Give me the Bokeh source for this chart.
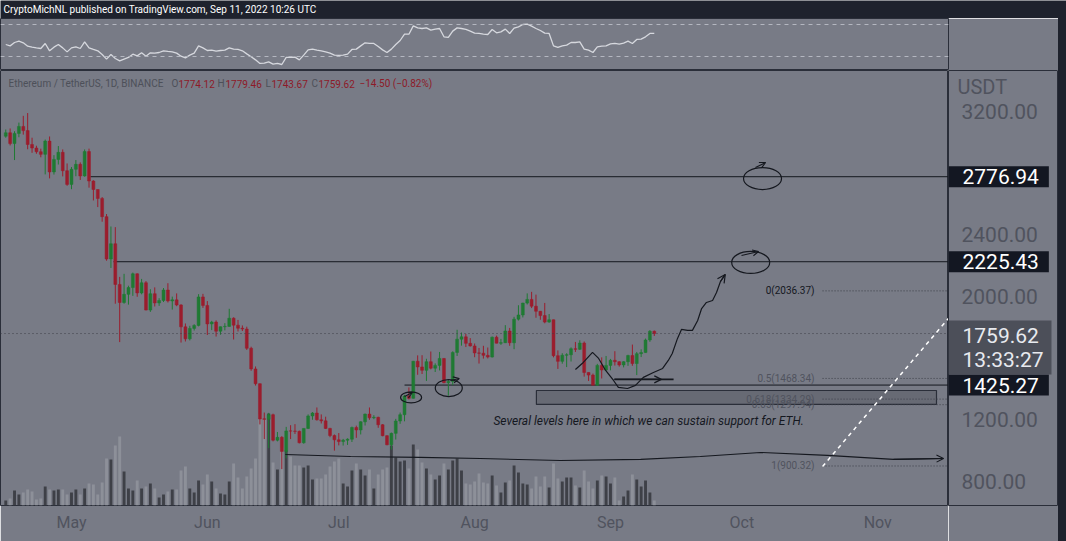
import pandas as pd
from bokeh.plotting import figure
from bokeh.models import (ColumnDataSource, Range1d, FixedTicker, DatetimeTickFormatter,
                          Label, Span, Arrow, OpenHead, Spacer)
from bokeh.layouts import column, row
from bokeh.core.properties import value
from bokeh.embed import file_html
from bokeh.resources import INLINE

# ---------------- data ----------------
first_day = "2022-04-16"
opens = [3040, 3062, 2992, 3058, 3103, 3076, 2986, 2963, 2939, 2922,
         3008, 2808, 2889, 2935, 2816, 2727, 2825, 2857, 2782, 2940,
         2749, 2694, 2636, 2518, 2243, 2342, 2078, 1961, 2014, 2058,
         2147, 2023, 2089, 1912, 2018, 1958, 1974, 2042, 1971, 1978,
         1945, 1803, 1725, 1793, 1812, 1997, 1942, 1822, 1834, 1775,
         1804, 1806, 1859, 1814, 1794, 1789, 1664, 1530, 1434, 1206,
         1203, 1233, 1068, 1086, 995, 1128, 1127, 1125, 1051, 1144,
         1225, 1244, 1200, 1193, 1144, 1098, 1070, 1059, 1068, 1074,
         1150, 1134, 1187, 1237, 1213, 1216, 1168, 1097, 1038, 1112,
         1192, 1233, 1354, 1339, 1580, 1543, 1521, 1577, 1535, 1553,
         1598, 1441, 1449, 1637, 1723, 1738, 1696, 1679, 1634, 1632,
         1618, 1607, 1736, 1697, 1700, 1776, 1700, 1853, 1880, 1957,
         1981, 1937, 1904, 1876, 1834, 1849, 1616, 1579, 1619, 1622,
         1661, 1657, 1698, 1507, 1490, 1424, 1553, 1523, 1553, 1586,
         1577, 1556, 1577, 1617, 1565, 1629, 1636, 1718, 1774.12]
highs = [3083, 3090, 3072, 3128, 3172, 3190, 3030, 2978, 2959, 3018,
         3038, 2917, 2976, 2954, 2863, 2840, 2885, 2870, 2954, 2959,
         2754, 2694, 2645, 2535, 2454, 2450, 2127, 2147, 2070, 2155,
         2150, 2114, 2100, 2047, 2059, 1989, 2055, 2086, 1999, 2020,
         1950, 1825, 1810, 1820, 2015, 2017, 1970, 1842, 1845, 1805,
         1827, 1920, 1865, 1848, 1812, 1804, 1674, 1546, 1436, 1247,
         1245, 1240, 1121, 1094, 1154, 1165, 1172, 1130, 1144, 1235,
         1250, 1280, 1235, 1220, 1148, 1105, 1114, 1076, 1080, 1156,
         1162, 1190, 1240, 1280, 1230, 1220, 1172, 1100, 1117, 1206,
         1247, 1362, 1410, 1582, 1618, 1619, 1596, 1643, 1566, 1640,
         1600, 1463, 1644, 1784, 1766, 1757, 1730, 1695, 1666, 1680,
         1669, 1740, 1746, 1725, 1814, 1796, 1868, 1943, 1959, 2020,
         2030, 2012, 1906, 1958, 1886, 1850, 1650, 1632, 1632, 1670,
         1705, 1716, 1708, 1508, 1500, 1563, 1605, 1614, 1595, 1645,
         1580, 1580, 1622, 1688, 1640, 1657, 1727, 1782, 1779.46]
lows = [3030, 2980, 2885, 3033, 3050, 2955, 2932, 2926, 2903, 2792,
        2766, 2791, 2856, 2779, 2718, 2696, 2780, 2756, 2777, 2706,
        2623, 2580, 2485, 2232, 2185, 1953, 1704, 1953, 1947, 2004,
        1998, 2014, 1910, 1900, 1935, 1939, 1964, 1961, 1915, 1937,
        1701, 1708, 1715, 1779, 1806, 1926, 1750, 1782, 1740, 1752,
        1780, 1804, 1721, 1773, 1776, 1653, 1518, 1422, 1170, 1075,
        1016, 1060, 1060, 880, 950, 1075, 1108, 1047, 1045, 1140,
        1200, 1195, 1176, 1140, 1087, 1000, 1034, 1033, 1037, 1056,
        1083, 1105, 1163, 1200, 1204, 1148, 1093, 1035, 1006, 1072,
        1174, 1190, 1332, 1338, 1492, 1497, 1452, 1527, 1510, 1520,
        1437, 1356, 1425, 1614, 1681, 1672, 1675, 1606, 1565, 1597,
        1598, 1604, 1696, 1686, 1698, 1680, 1658, 1844, 1864, 1948,
        1925, 1862, 1849, 1826, 1829, 1605, 1530, 1564, 1542, 1578,
        1640, 1653, 1480, 1452, 1424, 1422, 1468, 1519, 1521, 1552,
        1545, 1540, 1550, 1550, 1490, 1607, 1635, 1706, 1743.67]
closes = [3062, 2992, 3058, 3103, 3076, 2986, 2963, 2939, 2922, 3008,
          2808, 2889, 2935, 2816, 2727, 2825, 2857, 2782, 2940, 2749,
          2694, 2636, 2518, 2243, 2342, 2078, 1961, 2014, 2058, 2147,
          2023, 2089, 1912, 2018, 1958, 1974, 2042, 1971, 1978, 1945,
          1803, 1725, 1793, 1812, 1997, 1942, 1822, 1834, 1775, 1804,
          1806, 1859, 1814, 1794, 1789, 1664, 1530, 1434, 1205, 1203,
          1233, 1068, 1086, 995, 1128, 1127, 1125, 1051, 1144, 1225,
          1244, 1200, 1193, 1144, 1098, 1070, 1059, 1068, 1074, 1150,
          1134, 1187, 1237, 1213, 1216, 1168, 1097, 1038, 1112, 1192,
          1233, 1354, 1339, 1580, 1543, 1521, 1577, 1535, 1553, 1598,
          1441, 1449, 1637, 1723, 1738, 1696, 1679, 1634, 1632, 1618,
          1607, 1736, 1697, 1700, 1776, 1700, 1853, 1880, 1957, 1981,
          1937, 1904, 1876, 1834, 1849, 1616, 1579, 1619, 1622, 1661,
          1657, 1698, 1507, 1490, 1424, 1553, 1523, 1553, 1586, 1577,
          1556, 1577, 1617, 1565, 1629, 1636, 1718, 1774.12, 1759.62]
volumes_k = [100, 140, 300, 220, 260, 320, 280, 120, 140, 380,
             320, 300, 320, 320, 220, 260, 320, 220, 340, 440,
             420, 220, 460, 940, 920, 1200, 1380, 680, 340, 300,
             500, 340, 380, 440, 340, 160, 220, 280, 320, 320,
             700, 780, 340, 260, 500, 420, 620, 480, 340, 240,
             220, 480, 840, 560, 340, 580, 740, 940, 1820, 1720,
             1840, 860, 720, 1160, 1100, 980, 800, 800, 760, 800,
             520, 540, 540, 620, 780, 880, 940, 440, 380, 700,
             840, 720, 600, 720, 340, 620, 720, 760, 1200, 960,
             880, 900, 740, 1220, 1120, 860, 740, 620, 520, 600,
             840, 720, 900, 940, 700, 440, 420, 480, 640, 460,
             440, 600, 400, 260, 460, 500, 800, 660, 440, 420,
             340, 580, 380, 580, 360, 840, 540, 480, 560, 560,
             400, 360, 700, 480, 340, 500, 600, 580, 440, 560,
             100, 180, 300, 620, 520, 380, 500, 260, 100]
rsi_values = [45.0, 43.3, 47.5, 49.2, 47.1, 42.9, 41.7, 40.8, 40.0, 46.3,
              37.1, 41.7, 45.0, 40.8, 35.8, 40.8, 42.1, 40.0, 48.3, 40.8,
              38.8, 37.1, 32.5, 26.7, 32.5, 27.5, 24.6, 26.7, 28.8, 32.9,
              30.8, 34.6, 30.4, 34.6, 34.2, 35.0, 37.1, 36.3, 35.8, 34.2,
              30.4, 28.3, 31.7, 34.2, 43.3, 40.8, 37.5, 37.9, 36.7, 37.5,
              37.9, 40.8, 39.2, 38.8, 37.1, 33.3, 29.6, 25.8, 21.3, 21.7,
              23.3, 20.4, 21.3, 20.0, 28.8, 28.8, 29.2, 25.8, 31.7, 38.3,
              39.2, 37.9, 37.1, 35.8, 34.2, 31.7, 31.3, 31.7, 32.9, 38.8,
              39.2, 43.3, 47.1, 46.3, 46.3, 42.5, 38.3, 35.0, 39.2, 45.0,
              50.0, 57.9, 57.9, 68.3, 65.8, 65.0, 65.8, 62.9, 64.2, 65.0,
              54.6, 53.8, 61.7, 65.8, 65.0, 63.8, 61.7, 59.2, 58.8, 57.9,
              57.5, 63.8, 59.6, 60.8, 64.2, 58.8, 65.4, 67.1, 70.0, 70.4,
              67.9, 65.0, 62.5, 59.2, 58.8, 43.3, 41.3, 43.3, 44.2, 47.5,
              47.5, 48.3, 39.2, 37.9, 35.0, 42.1, 42.9, 43.3, 45.8, 46.3,
              45.4, 46.7, 49.2, 46.3, 51.3, 51.7, 54.6, 58.8, 58.8]
rsi_bands = [70, 30]

month_ticks = ["2022-05-01", "2022-06-01", "2022-07-01", "2022-08-01",
               "2022-09-01", "2022-10-01", "2022-11-01"]
price_ticks = [800, 1200, 2000, 2400, 3200]
price_unit = "USDT"

level_prices = [2776.94, 2225.43, 1425.27]
level_start_days = [4.3, 9.6, 76.0]          # days after May 1
current_price = 1759.62
countdown = "13:33:27"

fib_ratios = ["0", "0.5", "0.618", "0.65", "1"]
fib_prices = [2036.37, 1468.34, 1334.29, 1297.94, 900.32]
fib_start_day = 171.4

zone_days = [106.1, 197.4]
zone_prices = [1300, 1390]

note_text = "Several levels here in which we can sustain support for ETH."
note_day, note_price = 131.7, 1189

ellipse_days = [157.7, 155.0, 77.5, 86.1]
ellipse_prices = [2765, 2221, 1345, 1406]
hook_day0 = [156.1, 152.9, 76.0, 86.5]
hook_p0 = [2837, 2266, 1351, 1455]
hook_day1 = [158.4, 156.8, 77.8, 88.5]
hook_p1 = [2869, 2292, 1377, 1468]

path_days = [115.0, 116.8, 118.9, 120.3, 121.9, 123.7, 124.8, 126.9, 128.7, 130.5,
             132.8, 134.9, 136.2, 137.1, 138.3, 139.2, 140.6, 141.7, 142.9, 143.8,
             144.9, 146.3, 147.2, 148.1, 149.2]
path_prices = [1526, 1572, 1637, 1598, 1520, 1455, 1410, 1403, 1423, 1475,
               1507, 1533, 1585, 1630, 1728, 1786, 1780, 1780, 1844, 1922,
               1961, 1974, 2026, 2097, 2143]
flat_arrow_days = [123.9, 134.6, 137.4]
flat_arrow_price = 1462

base_curve_days = [48.8, 63.7, 79.6, 93.3, 111.6, 129.9, 143.5, 157.2, 172.5, 187.6, 199.0]
base_curve_prices = [975, 962, 956, 949, 936, 943, 962, 988, 969, 943, 949]

trend_days = [171.4, 200.1]
trend_prices = [897, 1857]

header_text = "CryptoMichNL published on TradingView.com, Sep 11, 2022 10:26 UTC"
symbol_text = "Ethereum / TetherUS, 1D, BINANCE"
ohlc_labels = ["O", "H", "L", "C"]
ohlc_values = ["1774.12", "1779.46", "1743.67", "1759.62"]
change_text = "\u221214.50 (\u22120.82%)"

# ---------------- styles ----------------
BG = "#787b86"
DARK = "#1e222d"
EDGE = "#2a2e39"
AXIS_TXT = "#50535e"
RED = "#9b1d2d"
GREEN = "#1f7a33"
VOL_UP = "#3e4047"
VOL_DN = "#8d9099"
INK = "#15181f"
FONT = "Roboto"

BASE = pd.Timestamp("2022-05-01")
DAY = 86400000.0


def ms_day(d):
    return (BASE + pd.Timedelta(days=d)).value / 1e6


def ms_date(s):
    return pd.Timestamp(s).value / 1e6


start0 = pd.Timestamp(first_day)
xs = [(start0 + pd.Timedelta(days=i)).value / 1e6 for i in range(len(closes))]
up = [c >= o for o, c in zip(opens, closes)]
src = ColumnDataSource(dict(
    x=xs, o=opens, h=highs, l=lows, c=closes,
    top=[max(o, c) for o, c in zip(opens, closes)],
    bot=[min(o, c) for o, c in zip(opens, closes)],
    color=[GREEN if u else RED for u in up],
    vol=volumes_k,
    vcolor=[VOL_UP if u else VOL_DN for u in up],
    rsi=rsi_values,
))

xr = Range1d(ms_day(-16.2), ms_day(200.14))
yr = Range1d(644, 3466)

# ---------------- header ----------------
hdr = figure(width=1066, height=18, toolbar_location=None, output_backend="svg",
             x_range=Range1d(0, 1), y_range=Range1d(0, 1),
             x_axis_location=None, y_axis_location=None, min_border=0,
             background_fill_color=DARK, border_fill_color=DARK, outline_line_color=None)
hdr.grid.visible = False
hdr.add_layout(Label(x=3, y=9, x_units="screen", y_units="screen", text=header_text,
                     text_font=FONT, text_font_size="10px", text_color="#ffffff",
                     text_baseline="middle"))

# ---------------- RSI pane ----------------
rp = figure(width=1058, height=52, toolbar_location=None, output_backend="svg",
            x_range=xr, y_range=Range1d(12.5, 77.5),
            x_axis_location=None, y_axis_location=None,
            min_border_left=0, min_border_right=110, min_border_top=0, min_border_bottom=0,
            background_fill_color=BG, border_fill_color=BG, outline_line_color=EDGE)
rp.grid.visible = False
for b in rsi_bands:
    rp.add_layout(Span(location=b, dimension="width", line_color="#b4b7c0",
                       line_dash="4 4", line_width=1))
rp.line(x="x", y="rsi", source=src, line_color="#d6d8de", line_width=1.3)

# ---------------- main pane ----------------
p = figure(width=948, height=471, toolbar_location=None, output_backend="svg",
           x_range=xr, y_range=yr, x_axis_type="datetime", y_axis_location=None,
           min_border_left=0, min_border_right=0, min_border_top=0, min_border_bottom=36,
           background_fill_color=BG, border_fill_color=BG, outline_line_color=EDGE)
p.grid.visible = False
p.extra_y_ranges = {"vol": Range1d(0, 8700)}

xax = p.xaxis[0]
xax.ticker = FixedTicker(ticks=[ms_date(m) for m in month_ticks])
xax.formatter = DatetimeTickFormatter(days="%b", months="%b", years="%b")
xax.major_label_text_font = FONT
xax.major_label_text_font_size = "16px"
xax.major_label_text_color = AXIS_TXT
xax.major_tick_line_color = None
xax.minor_tick_line_color = None
xax.major_tick_out = 0
xax.major_tick_in = 0
xax.axis_line_color = None
xax.major_label_standoff = 7

W = 0.66 * DAY
# volume
p.vbar(x="x", top="vol", bottom=0, width=W, fill_color="vcolor", line_color=None,
       y_range_name="vol", source=src)

# drawings below candles
p.quad(left=[ms_day(zone_days[0])], right=[ms_day(zone_days[1])],
       bottom=[zone_prices[0]], top=[zone_prices[1]],
       fill_color="#676a74", line_color=EDGE, line_width=1.2)

x_end = ms_day(205)
for lp, sd in zip(level_prices, level_start_days):
    p.segment(x0=[ms_day(sd)], y0=[lp], x1=[x_end], y1=[lp], line_color=INK, line_width=1)

p.add_layout(Span(location=current_price, dimension="width", line_color="#3c3f48",
                  line_dash="1 3", line_width=1))

for r, fp in zip(fib_ratios, fib_prices):
    p.segment(x0=[ms_day(fib_start_day)], y0=[fp], x1=[x_end], y1=[fp],
              line_color="#3c3f48", line_dash="1 2", line_width=1)
fib_text = [f"{r}({fp:.2f})" for r, fp in zip(fib_ratios, fib_prices)]
fib_colors = [INK] + [AXIS_TXT] * (len(fib_ratios) - 1)
p.text(x=[ms_day(fib_start_day)] * len(fib_prices), y=fib_prices, text=fib_text,
       text_color=fib_colors, text_font=value(FONT), text_font_size="10px",
       text_align="right", text_baseline="middle", x_offset=-8)

# candles
p.segment(x0="x", y0="l", x1="x", y1="h", line_color="color", line_width=1, source=src)
p.vbar(x="x", top="top", bottom="bot", width=W, fill_color="color", line_color="color",
       line_width=0.5, source=src)

# hand drawings
p.ellipse(x=[ms_day(d) for d in ellipse_days], y=ellipse_prices,
          width=[38, 38, 21, 27], height=[22, 22, 11, 17],
          width_units="screen", height_units="screen",
          fill_color=None, line_color=INK, line_width=1.2)
for a0, b0, a1, b1 in zip(hook_day0, hook_p0, hook_day1, hook_p1):
    p.add_layout(Arrow(end=OpenHead(size=6, line_color=INK, line_width=1.1),
                       x_start=ms_day(a0), y_start=b0, x_end=ms_day(a1), y_end=b1,
                       line_color=INK, line_width=1.1))

p.line(x=[ms_day(d) for d in path_days], y=path_prices, line_color=INK, line_width=1.2)
p.add_layout(Arrow(end=OpenHead(size=8, line_color=INK, line_width=1.2),
                   x_start=ms_day(path_days[-2]), y_start=path_prices[-2],
                   x_end=ms_day(path_days[-1]), y_end=path_prices[-1],
                   line_color=INK, line_width=1.2))

p.line(x=[ms_day(flat_arrow_days[0]), ms_day(flat_arrow_days[2])],
       y=[flat_arrow_price, flat_arrow_price], line_color=INK, line_width=1.6)
p.add_layout(Arrow(end=OpenHead(size=7, line_color=INK, line_width=1.2),
                   x_start=ms_day(flat_arrow_days[0]), y_start=flat_arrow_price,
                   x_end=ms_day(flat_arrow_days[1]), y_end=flat_arrow_price,
                   line_color=INK, line_width=1.2))

p.line(x=[ms_day(d) for d in base_curve_days], y=base_curve_prices,
       line_color=INK, line_width=1.1)
p.add_layout(Arrow(end=OpenHead(size=7, line_color=INK, line_width=1.1),
                   x_start=ms_day(base_curve_days[-2]), y_start=base_curve_prices[-2],
                   x_end=ms_day(base_curve_days[-1]), y_end=base_curve_prices[-1],
                   line_color=INK, line_width=1.1))

p.line(x=[ms_day(d) for d in trend_days], y=trend_prices, line_color="#ffffff",
       line_dash="4 4", line_width=1.5)

p.text(x=[ms_day(note_day)], y=[note_price], text=[note_text], text_color=INK,
       text_font=value(FONT), text_font_size="12px", text_font_style="italic",
       text_align="center", text_baseline="middle")

# legend line (top-left)
LEG_Y = 422
p.add_layout(Label(x=8, y=LEG_Y, x_units="screen", y_units="screen", text=symbol_text,
                   text_font=FONT, text_font_size="10px", text_color="#4d5059",
                   text_baseline="middle"))
leg_x = [171, 217, 265, 311]
val_x = [178, 225, 271, 318]
for lab, lx, v, vx in zip(ohlc_labels, leg_x, ohlc_values, val_x):
    p.add_layout(Label(x=lx, y=LEG_Y, x_units="screen", y_units="screen", text=lab,
                       text_font=FONT, text_font_size="10px", text_color="#4d5059",
                       text_baseline="middle"))
    p.add_layout(Label(x=vx, y=LEG_Y, x_units="screen", y_units="screen", text=v,
                       text_font=FONT, text_font_size="10px", text_color="#8e1a28",
                       text_baseline="middle"))
p.add_layout(Label(x=359, y=LEG_Y, x_units="screen", y_units="screen", text=change_text,
                   text_font=FONT, text_font_size="10px", text_color="#8e1a28",
                   text_baseline="middle"))

# ---------------- price scale ----------------
sc = figure(width=110, height=471, toolbar_location=None, output_backend="svg",
            x_range=Range1d(0, 110), y_range=yr,
            x_axis_location=None, y_axis_location=None,
            min_border_left=0, min_border_right=0, min_border_top=0, min_border_bottom=36,
            background_fill_color=BG, border_fill_color=BG, outline_line_color=EDGE)
sc.grid.visible = False
sc.text(x=[13] * len(price_ticks), y=price_ticks, text=[f"{t:.2f}" for t in price_ticks],
        text_font=value(FONT), text_font_size="21px", text_color=AXIS_TXT,
        text_align="left", text_baseline="middle")
sc.add_layout(Label(x=9, y=419, x_units="screen", y_units="screen", text=price_unit,
                    text_font=FONT, text_font_size="20px", text_color=AXIS_TXT,
                    text_baseline="middle"))
for lp in level_prices:
    sc.add_layout(Label(x=0, y=lp, x_units="screen", y_units="data", text=f"{lp:.2f}",
                        text_font=FONT, text_font_size="21px", text_color="#ffffff",
                        text_baseline="middle", text_align="left",
                        background_fill_color="#131722",
                        padding=dict(left=14, right=10, top=3, bottom=3)))
sc.add_layout(Label(x=0, y=current_price, x_units="screen", y_units="data",
                    text=f"{current_price:.2f}\n{countdown}", y_offset=13,
                    text_font=FONT, text_font_size="21px", text_color="#e8eaef",
                    text_baseline="top", text_align="left", text_line_height=1.0,
                    background_fill_color="#4c4f59",
                    padding=dict(left=14, right=8, top=3, bottom=3)))

strip = Spacer(width=8, height=523, styles={"background-color": DARK})
root = column(hdr, row(column(rp, row(p, sc)), strip))

open("out.html", "w").write(file_html(root, INLINE))
